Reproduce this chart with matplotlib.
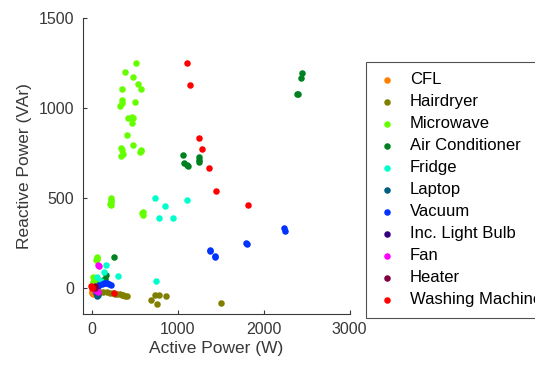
import matplotlib
matplotlib.use("Agg")
import matplotlib.pyplot as plt

plt.rcParams['font.family'] = ['Liberation Sans', 'DejaVu Sans']

categories = ["CFL", "Hairdryer", "Microwave", "Air Conditioner", "Fridge", "Laptop",
              "Vacuum", "Inc. Light Bulb", "Fan", "Heater", "Washing Machine"]
colors = ["#ff8000", "#808000", "#66ff00", "#008020", "#00ffcc", "#005f80",
          "#0033ff", "#330080", "#ff00ff", "#800040", "#ff0000"]

cfl_p = [5, 10, 15, 20, 8, 12]
cfl_q = [-25, -30, -35, -20, -15, -28]

hair_p = [40, 60, 100, 136, 180, 213, 250, 271, 300, 329, 350, 368, 390, 407,
          690, 736, 764, 787, 864, 1504]
hair_q = [-15, -20, -22, -22, -25, -28, -30, -32, -33, -35, -38, -41, -43, -45,
          -65, -37, -91, -37, -46, -84]

micro_p = [515, 384, 484, 543, 570, 357, 357, 349, 329, 504, 426, 465, 484, 465,
           411, 488, 341, 349, 368, 337, 562, 581, 570,
           221, 221, 221, 218, 224, 593, 593, 590,
           58, 60, 55, 62, 19, 25, 30, 22, 35, 28]
micro_q = [1251, 1204, 1173, 1136, 1108, 1108, 1046, 1032, 1013, 1033, 944, 954, 944, 920,
           849, 794, 781, 768, 745, 736, 758, 768, 762,
           498, 480, 461, 470, 490, 424, 405, 415,
           173, 160, 154, 166, 61, 50, 40, 33, 55, 45]

ac_p = [2450, 2434, 2403, 2395, 1058, 1078, 1105, 1124, 1244, 1244, 1248, 264,
        174, 155, 136, 120, 100]
ac_q = [1199, 1167, 1078, 1082, 742, 697, 684, 678, 730, 715, 703, 171,
        71, 52, 43, 35, 30]

fridge_p = [733, 849, 783, 942, 1112, 744, 163, 306, 147, 66, 110]
fridge_q = [500, 455, 392, 387, 487, 37, 126, 69, 89, 61, 40]

laptop_p = [66, 60, 50, 70]
laptop_q = [-45, -38, -30, -40]

vac_p = [2240, 2245, 1802, 1805, 1376, 1380, 1434, 1438, 221, 200, 180, 160, 140, 116, 90, 70, 50]
vac_q = [331, 318, 253, 242, 214, 206, 177, 171, 15, 20, 25, 28, 25, 20, 15, 10, 5]

bulb_p = [30, 40, 45]
bulb_q = [0, 5, -5]

fan_p = [85, 80, 40, 60, 77]
fan_q = [121, 130, -13, -18, -22]

heater_p = [39, 45, 35]
heater_q = [5, 10, 0]

wm_p = [1105, 1143, 1244, 1287, 1364, 1453, 1814, 264, 0, 5, -5]
wm_q = [1251, 1128, 836, 773, 665, 539, 463, -28, 0, 5, 10]

series_p = [cfl_p, hair_p, micro_p, ac_p, fridge_p, laptop_p, vac_p, bulb_p, fan_p, heater_p, wm_p]
series_q = [cfl_q, hair_q, micro_q, ac_q, fridge_q, laptop_q, vac_q, bulb_q, fan_q, heater_q, wm_q]

fig = plt.figure(figsize=(5.35, 3.74), dpi=100)
ax = fig.add_axes([82.5/535, 1 - 314/374, (349.5 - 82.5)/535, (314 - 18.5)/374])

for name, col, p, q in zip(categories, colors, series_p, series_q):
    ax.scatter(p, q, s=22, color=col, label=name, linewidths=0)

ax.set_xlim(-105, 3000)
ax.set_ylim(-145, 1500)
ax.set_xticks([0, 1000, 2000, 3000])
ax.set_yticks([0, 500, 1000, 1500])
tc = "#383838"
for s in ['top', 'right']:
    ax.spines[s].set_visible(False)
for s in ['left', 'bottom']:
    ax.spines[s].set_color(tc)
    ax.spines[s].set_linewidth(0.8)
ax.tick_params(direction='in', length=3, colors=tc, labelsize=11.5, width=0.8, pad=6)
ax.set_xlabel("Active Power (W)", fontsize=12.5, color=tc, labelpad=3)
ax.set_ylabel("Reactive Power (VAr)", fontsize=12.5, color=tc, labelpad=5)

leg = ax.legend(loc='upper left', bbox_to_anchor=(366/535, 1 - 62/374),
                bbox_transform=fig.transFigure, borderaxespad=0, fontsize=12,
                frameon=True, fancybox=False, edgecolor="#262626", handletextpad=0.7,
                labelspacing=0.42, borderpad=0.62, handlelength=1.3, scatterpoints=1,
                markerscale=1.0)
leg.get_frame().set_linewidth(0.8)
for t in leg.get_texts():
    t.set_color("#000000")

fig.savefig("out.png", dpi=100)
